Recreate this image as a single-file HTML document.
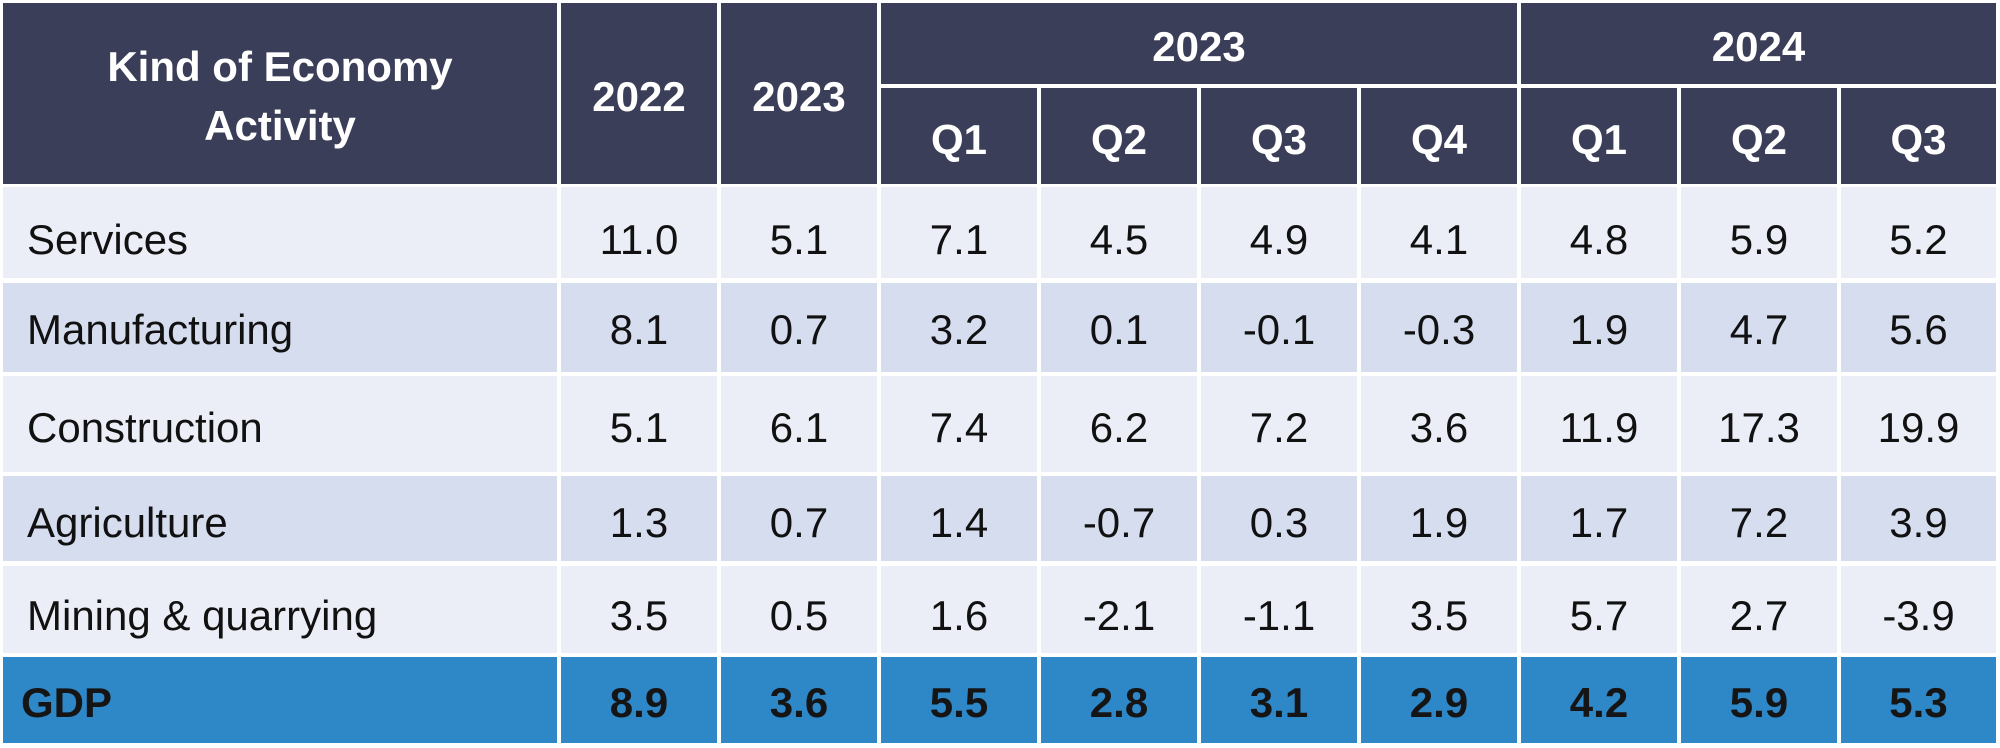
<!DOCTYPE html>
<html>
<head>
<meta charset="utf-8">
<style>
  html, body { margin:0; padding:0; }
  body { width:2000px; height:748px; background:#ffffff; position:relative; overflow:hidden;
         font-family:"Liberation Sans", Arial, sans-serif; }
  .c { position:absolute; }
  .h { background:#3b3e58; }
  .l { background:#eceef7; }
  .a { background:#d5ddef; }
  .g { background:#2e87c7; }
  .t { position:absolute; font-size:42px; line-height:42px; white-space:nowrap; color:#111; }
  .w { color:#ffffff; font-weight:bold; text-align:center; }
  .n { text-align:center; }
  .b { font-weight:bold; color:#151515; }
</style>
</head>
<body>
<!-- Header cells -->
<div class="c h" style="left:3px;top:3px;width:554px;height:181px;"></div>
<div class="c h" style="left:561px;top:3px;width:156px;height:181px;"></div>
<div class="c h" style="left:721px;top:3px;width:156px;height:181px;"></div>
<div class="c h" style="left:881px;top:3px;width:636px;height:81px;"></div>
<div class="c h" style="left:1521px;top:3px;width:475px;height:81px;"></div>
<div class="c h" style="left:881px;top:88px;width:156px;height:96px;"></div>
<div class="c h" style="left:1041px;top:88px;width:156px;height:96px;"></div>
<div class="c h" style="left:1201px;top:88px;width:156px;height:96px;"></div>
<div class="c h" style="left:1361px;top:88px;width:156px;height:96px;"></div>
<div class="c h" style="left:1521px;top:88px;width:156px;height:96px;"></div>
<div class="c h" style="left:1681px;top:88px;width:156px;height:96px;"></div>
<div class="c h" style="left:1841px;top:88px;width:155px;height:96px;"></div>

<div class="t w" style="left:3px;width:554px;top:46px;">Kind of Economy</div>
<div class="t w" style="left:3px;width:554px;top:105px;">Activity</div>
<div class="t w" style="left:561px;width:156px;top:76px;">2022</div>
<div class="t w" style="left:721px;width:156px;top:76px;">2023</div>
<div class="t w" style="left:881px;width:636px;top:26px;">2023</div>
<div class="t w" style="left:1521px;width:475px;top:26px;">2024</div>
<div class="t w" style="left:881px;width:156px;top:119px;">Q1</div>
<div class="t w" style="left:1041px;width:156px;top:119px;">Q2</div>
<div class="t w" style="left:1201px;width:156px;top:119px;">Q3</div>
<div class="t w" style="left:1361px;width:156px;top:119px;">Q4</div>
<div class="t w" style="left:1521px;width:156px;top:119px;">Q1</div>
<div class="t w" style="left:1681px;width:156px;top:119px;">Q2</div>
<div class="t w" style="left:1841px;width:155px;top:119px;">Q3</div>

<!-- Rows -->
<div id="rows"></div>
<script>
(function(){
  var rows = [
    {y:187,h:91,bl:255,cls:'l',label:'Services',v:['11.0','5.1','7.1','4.5','4.9','4.1','4.8','5.9','5.2']},
    {y:283,h:89,bl:345,cls:'a',label:'Manufacturing',v:['8.1','0.7','3.2','0.1','-0.1','-0.3','1.9','4.7','5.6']},
    {y:376,h:96,bl:443,cls:'l',label:'Construction',v:['5.1','6.1','7.4','6.2','7.2','3.6','11.9','17.3','19.9']},
    {y:476,h:85,bl:538,cls:'a',label:'Agriculture',v:['1.3','0.7','1.4','-0.7','0.3','1.9','1.7','7.2','3.9']},
    {y:566,h:87,bl:631,cls:'l',label:'Mining &amp; quarrying',v:['3.5','0.5','1.6','-2.1','-1.1','3.5','5.7','2.7','-3.9']},
    {y:657,h:86,bl:718,cls:'g',label:'GDP',v:['8.9','3.6','5.5','2.8','3.1','2.9','4.2','5.9','5.3'],bold:true}
  ];
  var html = '';
  rows.forEach(function(r){
    html += '<div class="c '+r.cls+'" style="left:3px;top:'+r.y+'px;width:554px;height:'+r.h+'px;"></div>';
    for (var i=0;i<9;i++){
      var x = 561 + i*160, w = (i==8)?155:156;
      html += '<div class="c '+r.cls+'" style="left:'+x+'px;top:'+r.y+'px;width:'+w+'px;height:'+r.h+'px;"></div>';
    }
    var tt = r.bl - 36;
    var bcls = r.bold ? ' b' : '';
    var lx = r.bold ? 21 : 27;
    html += '<div class="t'+bcls+'" style="left:'+lx+'px;top:'+tt+'px;">'+r.label+'</div>';
    for (var j=0;j<9;j++){
      var x2 = 561 + j*160, w2 = (j==8)?155:156;
      html += '<div class="t n'+bcls+'" style="left:'+x2+'px;width:'+w2+'px;top:'+tt+'px;">'+r.v[j]+'</div>';
    }
  });
  document.getElementById('rows').outerHTML = html;
})();
</script>
</body>
</html>
